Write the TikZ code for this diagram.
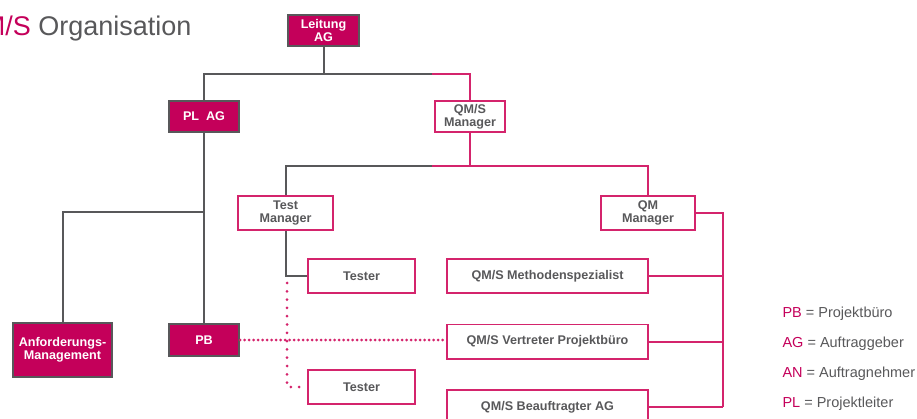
\documentclass[tikz,border=0pt]{standalone}
\usepackage{fontspec}
\setmainfont{Liberation Sans}
\usepackage{tikz}
\usetikzlibrary{positioning}
\definecolor{tmag}{RGB}{196,0,90}
\definecolor{tline}{RGB}{212,36,108}
\definecolor{tgrey}{RGB}{88,88,90}

\begin{document}
\begin{tikzpicture}[x=1pt, y=-1pt, node distance=29.5pt,
		box/.style={draw, line width=1.6pt, align=center, inner sep=1pt, font=\fontsize{12.6}{13}\selectfont\bfseries},
		fullbox/.style={box, fill=tmag, draw=tgrey, text=white},
		openbox/.style={box, fill=white, draw=tline, text=tgrey},
		gline/.style={draw=tgrey, line width=2pt},
		mline/.style={draw=tline, line width=2pt},
		vdots/.style={draw=tline, line width=3pt, line cap=round, dash pattern=on 0pt off 8.3pt},
		hdots/.style={draw=tline, line width=3pt, line cap=round, dash pattern=on 0pt off 4.5pt},
		legend/.style={anchor=base west, text=tgrey, font=\fontsize{14.5}{18}\selectfont}]
	\useasboundingbox (0,0) rectangle (917,419);
	\node[anchor=base east, text=tgrey, font=\fontsize{27}{30}\selectfont] (title) at (195,35.5) {\textcolor{tmag}{QM/S} Organisation};
	% top level
	\node[fullbox, minimum width=71.5pt, minimum height=31.5pt] (lead) at (323.5,30.5) {Leitung\\AG};
	\node[fullbox, minimum width=70.5pt, minimum height=31.5pt] (plag) at (204,116.5) {PL\ \ AG};
	\node[openbox, minimum width=70.5pt, minimum height=31.5pt] (qmsm) at (470,116.5) {QM/S\\Manager};
	% second level
	\node[openbox, minimum width=95.5pt, minimum height=34.5pt] (testm) at (285.5,213) {Test\\Manager};
	\node[openbox, minimum width=94.5pt, minimum height=34.5pt] (qmm) at (648,213) {QM\\Manager};
	\node[openbox, minimum width=107.5pt, minimum height=34pt] (tester1) at (361.5,276) {Tester};
	\node[openbox, minimum width=107.5pt, minimum height=34pt] (tester2) at (361.5,387) {Tester};
	\node[openbox, minimum width=201.5pt, minimum height=34.5pt] (meth) at (547.5,276) {QM/S Methodenspezialist};
	\node[openbox, minimum width=201.5pt, minimum height=34.5pt, below=of meth] (vert) {QM/S Vertreter Projektbüro};
	\node[openbox, minimum width=201.5pt, minimum height=34.5pt, below=of vert] (beauf) {QM/S Beauftragter AG};
	\node[fullbox, minimum width=99.5pt, minimum height=54.5pt] (anf) at (62.5,350) {Anforderungs-\\Management};
	\node[fullbox, minimum width=70.5pt, minimum height=31.5pt] (pb) at (204,340) {PB};
	% legend
	\node[legend] (lpb) at (779,317) {\textcolor{tmag}{PB} = Projektbüro};
	\node[legend] (lag) at (779,347) {\textcolor{tmag}{AG} = Auftraggeber};
	\node[legend] (lan) at (779,377) {\textcolor{tmag}{AN} = Auftragnehmer};
	\node[legend] (lpl) at (779,407) {\textcolor{tmag}{PL} = Projektleiter};
	% junctions
	\coordinate (top) at (323.5,74);
	\coordinate (split1) at (432,74);
	\coordinate (mid) at (470,166);
	\coordinate (split2) at (432,166);
	\coordinate (fork) at (204,212);
	\coordinate (bus) at (723,213);
	\coordinate (dtop) at (287,283);
	% connectors
	\draw[gline] (lead) -- (top);
	\draw[gline] (plag) |- (split1);
	\draw[mline] (split1) -| (qmsm);
	\draw[mline] (qmsm) -- (mid) -- (split2);
	\draw[gline] (split2) -| (testm);
	\draw[mline] (mid) -| (qmm);
	\draw[gline] (plag) -- (pb);
	\draw[gline] (fork) -| (anf);
	\draw[gline] (testm) |- (tester1);
	\draw[vdots] (dtop) |- (tester2);
	\draw[hdots] (pb.east) -- (pb.east -| vert.west);
	\draw[mline] (qmm.east) -- (bus) -- (bus |- beauf.east);
	\draw[mline] (meth.east) -- (meth.east -| bus);
	\draw[mline] (vert.east) -- (vert.east -| bus);
	\draw[mline] (beauf.east) -- (beauf.east -| bus);
\end{tikzpicture}
\end{document}
